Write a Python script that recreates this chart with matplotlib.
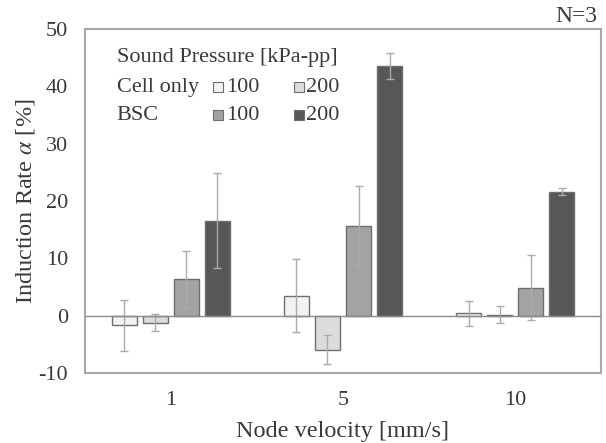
import matplotlib
matplotlib.use("Agg")
import matplotlib.pyplot as plt
import numpy as np

plt.rcParams['font.family'] = ['Liberation Serif', 'DejaVu Serif']
plt.rcParams['mathtext.fontset'] = 'stix'

categories = ["1", "5", "10"]
series_names = ["Cell only 100", "Cell only 200", "BSC 100", "BSC 200"]
values = {
    "Cell only 100": [-1.7, 3.5, 0.4],
    "Cell only 200": [-1.2, -5.9, 0.2],
    "BSC 100": [6.4, 15.7, 4.9],
    "BSC 200": [16.6, 43.6, 21.6],
}
errors = {
    "Cell only 100": [4.4, 6.3, 2.2],
    "Cell only 200": [1.5, 2.6, 1.5],
    "BSC 100": [4.8, 6.9, 5.6],
    "BSC 200": [8.3, 2.3, 0.6],
}
colors = ["#f2f2f2", "#dcdcdc", "#a3a3a3", "#575757"]
yticks = [-10, 0, 10, 20, 30, 40, 50]

fig = plt.figure(figsize=(6.06, 4.43), dpi=100)
ax = fig.add_axes([0.140, 0.158, 0.852, 0.7765])

x = np.arange(len(categories))
step = 0.1805
width = 0.145
txt = "#3a3a3a"
for i, name in enumerate(series_names):
    off = (i - 1.5) * step
    ax.bar(x + off, values[name], width, color=colors[i], edgecolor="#6e6e6e",
           linewidth=1.0, zorder=2)
    ax.errorbar(x + off, values[name], yerr=errors[name], fmt="none",
                ecolor="#ababab", elinewidth=1.0, capsize=3, capthick=1.0, zorder=3)

ax.axhline(0, color="#8c8c8c", linewidth=1.0, zorder=4)
ax.set_xlim(-0.5, 2.5)
ax.set_ylim(-10, 50)
ax.set_yticks(yticks)
ax.set_yticklabels([str(v) for v in yticks])
ax.set_xticks(x)
ax.set_xticklabels(categories)
ax.tick_params(axis="both", length=0, labelsize=16, colors=txt)
ax.tick_params(axis="x", pad=13)
ax.tick_params(axis="y", pad=12)
for s in ax.spines.values():
    s.set_color("#a8a8a8")
    s.set_linewidth(1.5)
ax.set_xlabel("Node velocity [mm/s]", fontsize=17.5, color=txt, labelpad=8)
ax.set_ylabel(r"Induction Rate $\alpha$ [%]", fontsize=17.5, color=txt, labelpad=1)

# legend
fs = 16
ax.text(0.062, 0.916, "Sound Pressure [kPa-pp]", transform=ax.transAxes,
        fontsize=fs, color=txt, va="center", ha="left")
rows = [("Cell only", 0.831, 0), ("BSC", 0.750, 2)]
for label, yy, k in rows:
    ax.text(0.062, yy, label, transform=ax.transAxes, fontsize=fs, color=txt,
            va="center", ha="left")
    for j, (sx, tx, lab) in enumerate([(0.258, 0.274, "100"), (0.414, 0.429, "200")]):
        ax.plot([sx], [yy], marker="s", markersize=7, color=colors[k + j],
                markeredgecolor="#6e6e6e", markeredgewidth=0.8,
                transform=ax.transAxes, clip_on=False, linestyle="none")
        ax.text(tx, yy, lab, transform=ax.transAxes, fontsize=fs, color=txt,
                va="center", ha="left")

fig.text(0.986, 0.963, "N=3", fontsize=17, color=txt, ha="right", va="center")

fig.savefig("out.png", dpi=100)
